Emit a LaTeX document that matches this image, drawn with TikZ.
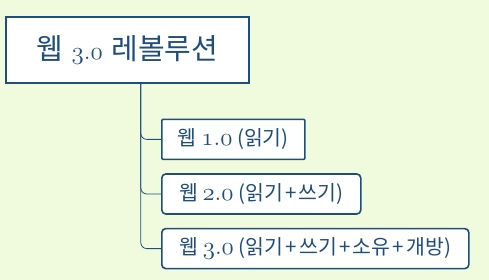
\documentclass[tikz,border=0pt]{standalone}
\usepackage{fontspec}
\setmainfont{Noto Sans CJK KR}
\usetikzlibrary{positioning}
\definecolor{bgcol}{RGB}{240,251,222}
\definecolor{navy}{RGB}{31,78,121}
\newcommand{\ver}[2]{{\fontsize{1.3em}{1em}\usefont{OML}{lmm}{m}{it}#1\char58 #2}}
\newcommand{\plus}{\kern2.3pt+\kern2.3pt}

\begin{document}
\begin{tikzpicture}[
  x=1pt, y=1pt,
  root/.style={draw=navy, line width=1.6pt, fill=white, text=navy, inner sep=0pt,
    minimum width=243pt, minimum height=66pt, font=\fontsize{29}{33}\selectfont},
  leaf/.style={draw=navy, line width=1.6pt, fill=white, text=navy, inner sep=0pt,
    rounded corners=4pt, minimum height=40pt, font=\fontsize{20.5}{24}\selectfont},
  link/.style={draw=navy, line width=0.8pt, rounded corners=6pt}
]
\fill[bgcol] (0,0) rectangle (489,-280);
\useasboundingbox (0,0) rectangle (489,-280);

\node[root, anchor=north west] (root) at (5,-16) {웹\kern2pt\ \ver{3}{0}\kern2pt\ 레볼루션};
\coordinate[right=13.5pt of root.south] (trunk);

\node[leaf, rounded corners=1pt, minimum width=143pt, below right=35pt and 156pt of root.south west] (web1) {웹 \ver{1}{0} (읽기)};
\node[leaf, minimum width=199pt, below right=13pt and 0pt of web1.south west] (web2) {웹 \ver{2}{0} (읽기\plus 쓰기)};
\node[leaf, minimum width=307pt, below right=13pt and 0pt of web2.south west] (web3) {웹 \ver{3}{0} (읽기\plus 쓰기\plus 소유\plus 개방)};

\draw[link] (trunk) |- (web1.west);
\draw[link] (trunk) |- (web2.west);
\draw[link] (trunk) |- (web3.west);
\end{tikzpicture}
\end{document}
